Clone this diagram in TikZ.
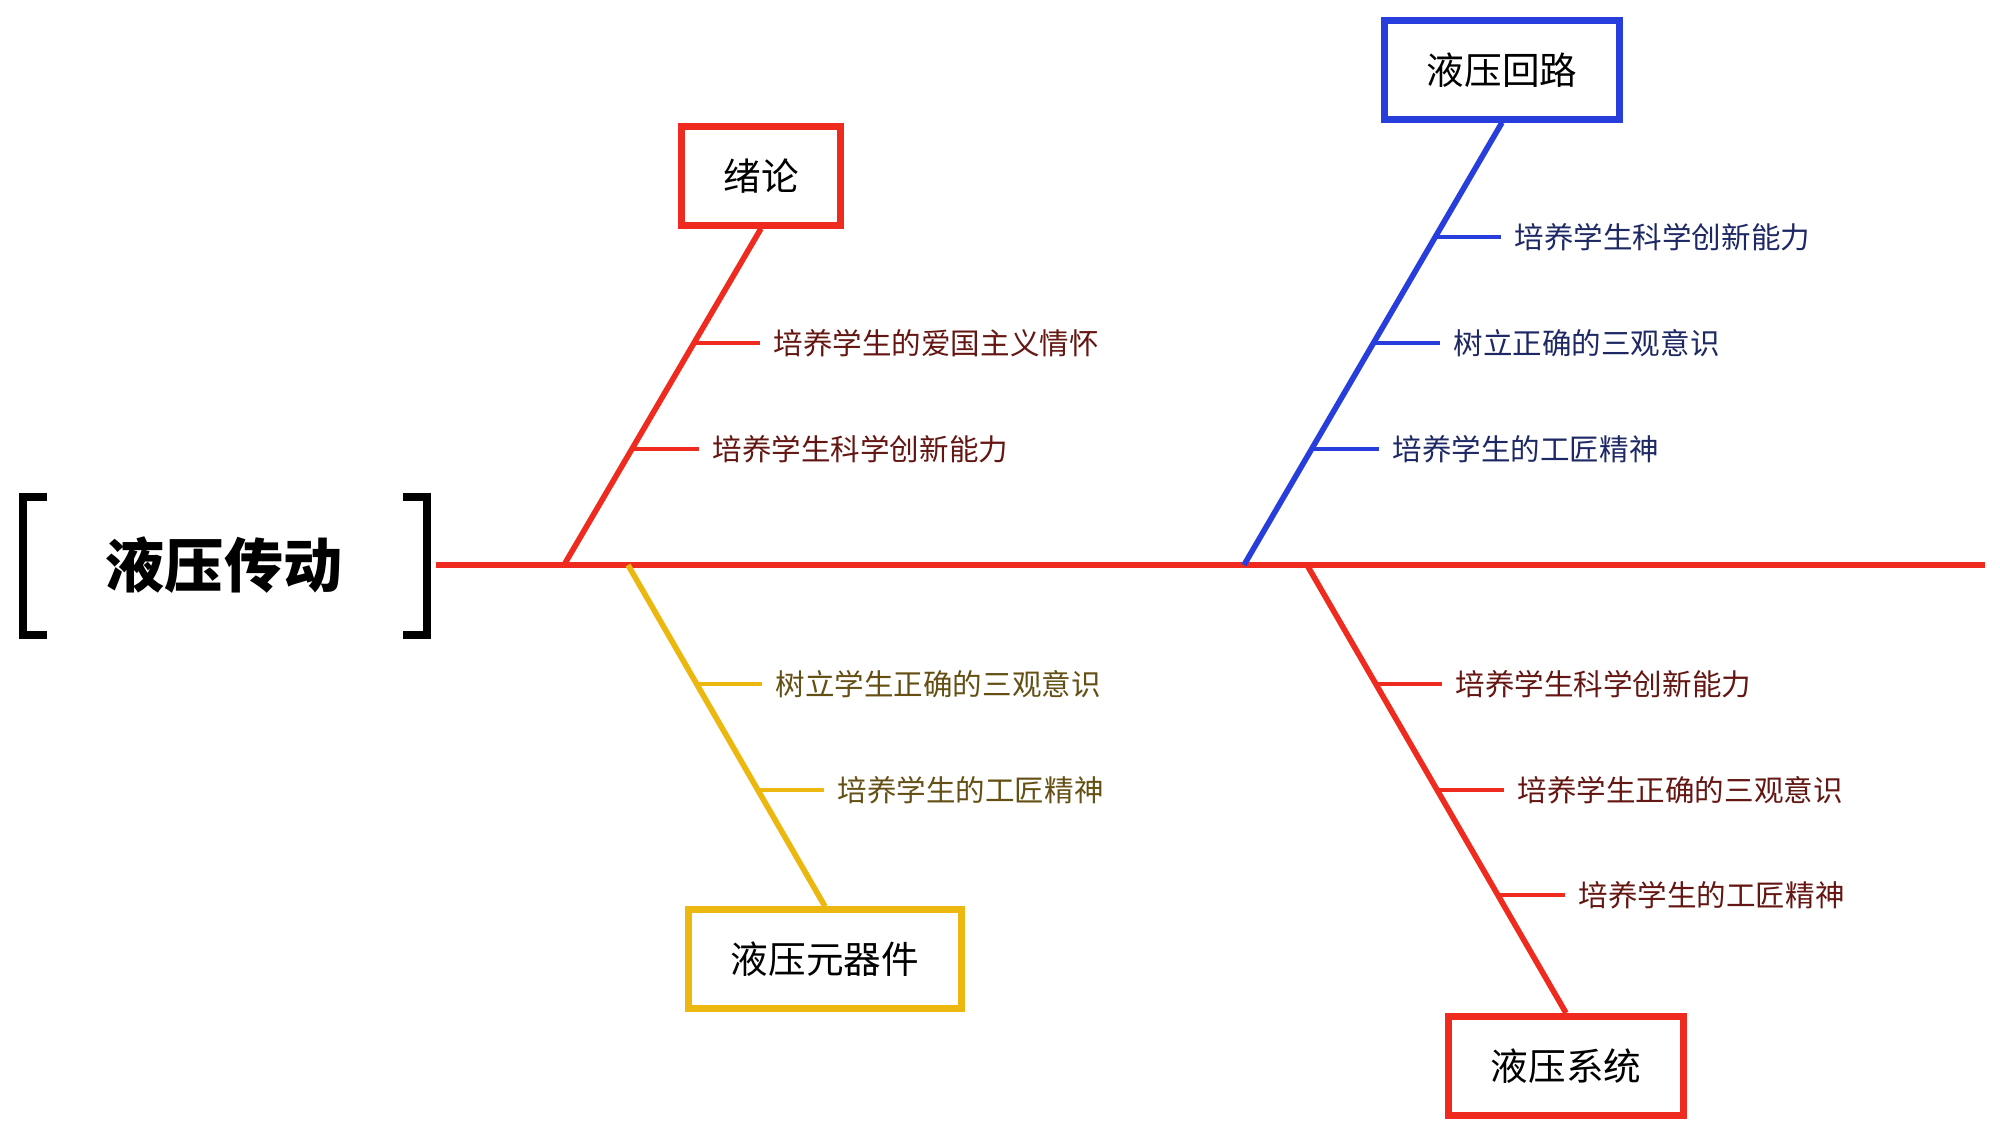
\documentclass[tikz,border=0pt]{standalone}
\usepackage{fontspec}
\setmainfont{Noto Sans CJK SC}
\definecolor{cred}{RGB}{238,43,30}
\definecolor{cblue}{RGB}{40,62,220}
\definecolor{cyel}{RGB}{236,183,15}
\definecolor{tred}{RGB}{100,22,18}
\definecolor{tblue}{RGB}{30,40,100}
\definecolor{tyel}{RGB}{100,80,20}
\begin{document}
\begin{tikzpicture}[x=0.01cm,y=-0.01cm,
  box/.style={line width=2pt, fill=white, text=black, inner sep=0pt,
    font=\fontsize{10.7}{12}\selectfont, minimum height=0.98cm},
  lab/.style={anchor=west, inner sep=0pt, font=\fontsize{8.4}{10}\selectfont},
  bone/.style={line width=1.6pt},
  tick/.style={line width=1.2pt},
  spine/.style={line width=1.9pt, cred}]
\useasboundingbox (0,0) rectangle (2000,1137);

% title and brackets
\node[inner sep=0pt, font=\fontsize{16.8}{18}\bfseries\selectfont] (title) at (224,565) {液压传动};
\draw[line width=2.1pt] (47,497) -- (23,497) -- (23,635) -- (47,635);
\draw[line width=2.1pt] (403,497) -- (427,497) -- (427,635) -- (403,635);

% spine
\coordinate (s0) at (436,565);
\coordinate (s1) at (1985,565);
\draw[spine] (s0) -- (s1);

% joints on spine
\coordinate (j1) at (564,565);
\coordinate (j2) at (1244,565);
\coordinate (j3) at (628,565);
\coordinate (j4) at (1307,565);

% boxes
\node[box, draw=cred, minimum width=1.58cm] (b1) at (761,176) {绪论};
\node[box, draw=cblue, minimum width=2.35cm] (b2) at (1502,70) {液压回路};
\node[box, draw=cyel, minimum width=2.73cm] (b3) at (825,959) {液压元器件};
\node[box, draw=cred, minimum width=2.34cm, minimum height=0.99cm] (b4) at (1566,1066) {液压系统};

% bones
\draw[bone, cred] (b1.south) -- (j1);
\draw[bone, cblue] (b2.south) -- (j2);
\draw[bone, cyel] (j3) -- (b3.north);
\draw[bone, cred] (j4) -- (b4.north);

% branch 1
\coordinate (t11) at (693,343);
\coordinate (t12) at (631,449);
\node[lab, text=tred] (l11) at (773,343) {培养学生的爱国主义情怀};
\node[lab, text=tred] (l12) at (712,449) {培养学生科学创新能力};
\draw[tick, cred] (t11) -- ([xshift=-0.13cm]l11.west);
\draw[tick, cred] (t12) -- ([xshift=-0.13cm]l12.west);

% branch 2
\coordinate (t21) at (1434,237);
\coordinate (t22) at (1372,343);
\coordinate (t23) at (1311,449);
\node[lab, text=tblue] (l21) at (1514,237) {培养学生科学创新能力};
\node[lab, text=tblue] (l22) at (1453,343) {树立正确的三观意识};
\node[lab, text=tblue] (l23) at (1392,449) {培养学生的工匠精神};
\draw[tick, cblue] (t21) -- ([xshift=-0.13cm]l21.west);
\draw[tick, cblue] (t22) -- ([xshift=-0.13cm]l22.west);
\draw[tick, cblue] (t23) -- ([xshift=-0.13cm]l23.west);

% branch 3
\coordinate (t31) at (696,684);
\coordinate (t32) at (757,790);
\node[lab, text=tyel] (l31) at (775,684) {树立学生正确的三观意识};
\node[lab, text=tyel] (l32) at (837,790) {培养学生的工匠精神};
\draw[tick, cyel] (t31) -- ([xshift=-0.13cm]l31.west);
\draw[tick, cyel] (t32) -- ([xshift=-0.13cm]l32.west);

% branch 4
\coordinate (t41) at (1375,684);
\coordinate (t42) at (1436,790);
\coordinate (t43) at (1497,895);
\node[lab, text=tred] (l41) at (1455,684) {培养学生科学创新能力};
\node[lab, text=tred] (l42) at (1517,790) {培养学生正确的三观意识};
\node[lab, text=tred] (l43) at (1578,895) {培养学生的工匠精神};
\draw[tick, cred] (t41) -- ([xshift=-0.13cm]l41.west);
\draw[tick, cred] (t42) -- ([xshift=-0.13cm]l42.west);
\draw[tick, cred] (t43) -- ([xshift=-0.13cm]l43.west);
\end{tikzpicture}
\end{document}
